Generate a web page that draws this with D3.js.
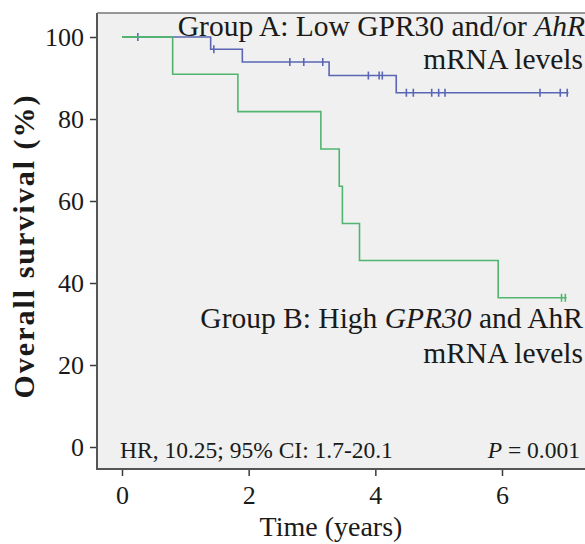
<!DOCTYPE html>
<html>
<head>
<meta charset="utf-8">
<script src="https://cdn.jsdelivr.net/npm/d3@7"></script>
<style>
  html, body { margin: 0; padding: 0; background: #ffffff; }
  svg { display: block; }
  text { font-family: "Liberation Serif", "Times New Roman", serif; fill: #1a1a1a; }
</style>
</head>
<body>
<script>
// ---- Data ----
// Group A (Low GPR30 and/or AhR): step events (time in years, survival %)
const groupATimes = [0, 1.40, 1.90, 3.27, 4.33];
const groupASurv  = [100, 97.0, 93.9, 90.6, 86.4];
const groupAEnd = 7.05;
const groupACensorTimes = [0.25, 1.45, 2.65, 2.87, 3.17, 3.89, 4.06, 4.11, 4.49, 4.60, 4.89, 5.00, 5.10, 6.60, 6.92, 7.03];

// Group B (High GPR30 and AhR)
const groupBTimes = [0, 0.80, 1.83, 3.14, 3.43, 3.48, 3.75, 5.94];
const groupBSurv  = [100, 90.9, 81.8, 72.7, 63.6, 54.5, 45.5, 36.4];
const groupBEnd = 7.02;
const groupBCensorTimes = [6.94, 7.00];

const xTickValues = [0, 2, 4, 6];
const yTickValues = [0, 20, 40, 60, 80, 100];

// ---- Layout ----
const W = 585, H = 544;
const frame = { left: 97, top: 13, bottom: 469, right: 600 };

const svg = d3.select("body").append("svg").attr("width", W).attr("height", H);

const x = d3.scaleLinear().domain([0, 6]).range([122, 502]);
const y = d3.scaleLinear().domain([0, 100]).range([447, 37]);

// background of plot
svg.append("rect")
  .attr("x", frame.left).attr("y", frame.top)
  .attr("width", frame.right - frame.left).attr("height", frame.bottom - frame.top)
  .attr("fill", "#eff0ef");

// step function helpers
function stepPoints(times, surv, end) {
  const pts = [];
  for (let i = 0; i < times.length; i++) {
    if (i > 0) pts.push([times[i], surv[i - 1]]);
    pts.push([times[i], surv[i]]);
  }
  pts.push([end, surv[surv.length - 1]]);
  return pts;
}
function survAt(times, surv, t) {
  let s = surv[0];
  for (let i = 0; i < times.length; i++) if (times[i] <= t) s = surv[i];
  return s;
}
const line = d3.line().x(d => x(d[0])).y(d => y(d[1]));

const blue = "#5a66b5", green = "#52b56f";

function drawGroup(times, surv, end, censors, color) {
  svg.append("path")
    .datum(stepPoints(times, surv, end))
    .attr("d", line)
    .attr("fill", "none")
    .attr("stroke", color)
    .attr("stroke-width", 1.6);
  svg.append("g").selectAll("line")
    .data(censors)
    .join("line")
    .attr("x1", d => x(d)).attr("x2", d => x(d))
    .attr("y1", d => y(survAt(times, surv, d)) - 4)
    .attr("y2", d => y(survAt(times, surv, d)) + 4)
    .attr("stroke", color)
    .attr("stroke-width", 1.6);
}
drawGroup(groupATimes, groupASurv, groupAEnd, groupACensorTimes, blue);
drawGroup(groupBTimes, groupBSurv, groupBEnd, groupBCensorTimes, green);
// green start segment drawn over blue (as in reference)
svg.append("path")
  .datum([[0, 100], [groupBTimes[1], 100]])
  .attr("d", line).attr("fill", "none").attr("stroke", green).attr("stroke-width", 1.6);

// ---- Axes ----
const axisColor = "#3a3a3a";
const yAxis = svg.append("g")
  .attr("transform", `translate(${frame.left},0)`)
  .call(d3.axisLeft(y).tickValues(yTickValues).tickSize(7).tickPadding(6).tickFormat(d3.format("d")));
yAxis.select(".domain").remove();
yAxis.selectAll(".tick line").attr("stroke", axisColor).attr("stroke-width", 1.5);
yAxis.selectAll(".tick text")
  .attr("font-family", "Liberation Serif, serif").attr("font-size", 26).attr("fill", "#1a1a1a");

const xAxis = svg.append("g")
  .attr("transform", `translate(0,${frame.bottom})`)
  .call(d3.axisBottom(x).tickValues(xTickValues).tickSize(7).tickPadding(10).tickFormat(d3.format("d")));
xAxis.select(".domain").remove();
xAxis.selectAll(".tick line").attr("stroke", axisColor).attr("stroke-width", 1.5);
xAxis.selectAll(".tick text")
  .attr("font-family", "Liberation Serif, serif").attr("font-size", 26).attr("fill", "#1a1a1a");

// frame lines (left, top, bottom)
svg.append("line").attr("x1", frame.left).attr("x2", frame.left)
  .attr("y1", frame.top).attr("y2", frame.bottom + 1)
  .attr("stroke", "#555").attr("stroke-width", 2);
svg.append("line").attr("x1", frame.left).attr("x2", W)
  .attr("y1", frame.bottom).attr("y2", frame.bottom)
  .attr("stroke", "#555").attr("stroke-width", 2);
svg.append("line").attr("x1", frame.left).attr("x2", W)
  .attr("y1", frame.top).attr("y2", frame.top)
  .attr("stroke", "#777").attr("stroke-width", 1.5);

// axis titles
svg.append("text")
  .attr("transform", "translate(34,246) rotate(-90)")
  .attr("text-anchor", "middle")
  .attr("font-size", 30).attr("font-weight", "bold")
  .attr("letter-spacing", 2)
  .text("Overall survival (%)");

svg.append("text")
  .attr("x", 331).attr("y", 536)
  .attr("text-anchor", "middle")
  .attr("font-size", 28)
  .text("Time (years)");

// group annotations
const a1 = svg.append("text").attr("x", 585).attr("y", 36).attr("text-anchor", "end").attr("font-size", 29.5);
a1.append("tspan").text("Group A: Low GPR30 and/or ");
a1.append("tspan").attr("font-style", "italic").text("AhR");
svg.append("text").attr("x", 583).attr("y", 69).attr("text-anchor", "end").attr("font-size", 29.5).text("mRNA levels");

const b1 = svg.append("text").attr("x", 583).attr("y", 328).attr("text-anchor", "end").attr("font-size", 29.5);
b1.append("tspan").text("Group B: High ");
b1.append("tspan").attr("font-style", "italic").text("GPR30");
b1.append("tspan").text(" and AhR");
svg.append("text").attr("x", 583).attr("y", 363).attr("text-anchor", "end").attr("font-size", 29.5).text("mRNA levels");

// stats
svg.append("text").attr("x", 120).attr("y", 458).attr("font-size", 23.5)
  .text("HR, 10.25; 95% CI: 1.7-20.1");
const p = svg.append("text").attr("x", 580).attr("y", 458).attr("text-anchor", "end").attr("font-size", 23.5);
p.append("tspan").attr("font-style", "italic").text("P");
p.append("tspan").text(" = 0.001");
</script>
</body>
</html>
